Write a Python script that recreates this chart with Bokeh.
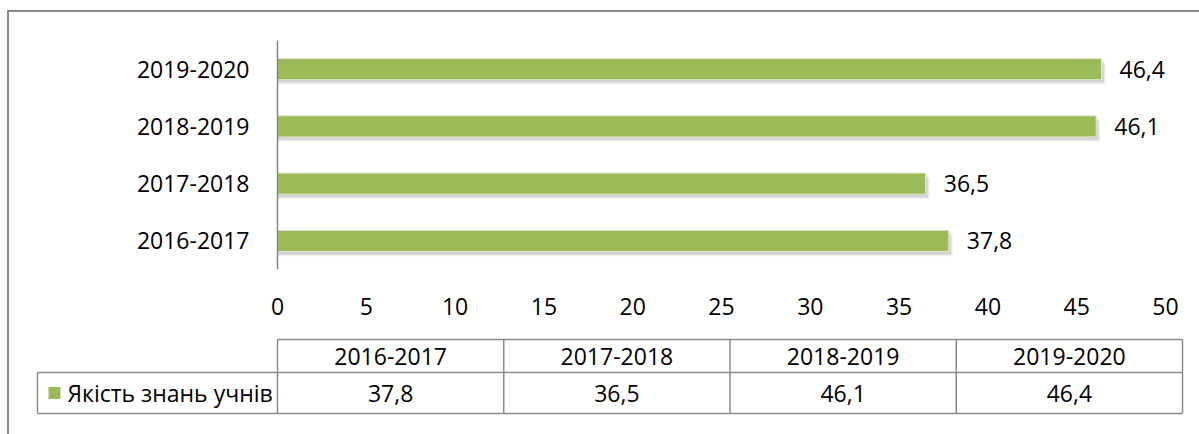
from bokeh.plotting import figure
from bokeh.layouts import column, row
from bokeh.models import Range1d, FixedTicker, ColumnDataSource, FactorRange
from bokeh.transform import dodge
from bokeh.core.properties import value
from bokeh.embed import file_html
from bokeh.resources import INLINE

# ---- data ----
years = ["2016-2017", "2017-2018", "2018-2019", "2019-2020"]
quality = [37.8, 36.5, 46.1, 46.4]
series_name = "Якість знань учнів"
x_ticks = [0, 5, 10, 15, 20, 25, 30, 35, 40, 45, 50]

# ---- style ----
FONT = "Open Sans"
FS = "23px"
GREEN = "#9BBB59"
LINE = "#8A8A8A"

OX, OY = 9, 12          # inner origin after the outer border
W = 1199 - OX
SPLIT = 330
H1 = SPLIT - OY
H2 = 434 - SPLIT

labels = [f"{v:.1f}".replace(".", ",") for v in quality]
src = ColumnDataSource(dict(year=years, q=quality, lab=labels))

# ---- bar chart ----
px_per_unit = (1165 - 277) / 50.0
x_end = (1190 - 277) / px_per_unit

p = figure(width=W, height=H1,
           y_range=FactorRange(factors=years),
           x_range=Range1d(0, x_end),
           output_backend="svg", toolbar_location=None,
           min_border_left=277 - OX, min_border_right=1199 - 1190,
           min_border_top=40 - OY, min_border_bottom=SPLIT - 269)
p.outline_line_color = None
p.grid.grid_line_color = None
p.background_fill_color = "white"
p.border_fill_color = "white"

# soft shadow
for dy, dx, a in [(-0.085, 0.22, 0.10), (-0.065, 0.16, 0.14), (-0.045, 0.10, 0.16)]:
    p.hbar(y=dodge("year", dy, range=p.y_range), left=0, right=dodge("q", dx),
           height=0.37, fill_color="#7f7f7f", fill_alpha=a, line_color=None, source=src)

p.hbar(y="year", left=0, right="q", height=0.37, fill_color=GREEN,
       line_color="#E3ECCF", line_width=1, source=src)

p.text(x="q", y="year", text="lab", x_offset=18, text_baseline="middle",
       text_align="left", text_font=value(FONT), text_font_size=FS,
       text_color="black", source=src)

p.xaxis.ticker = FixedTicker(ticks=x_ticks)
p.xaxis.axis_line_color = None
p.xaxis.major_tick_line_color = None
p.xaxis.minor_tick_line_color = None
p.xaxis.major_label_standoff = 22
p.xaxis.major_label_text_font = FONT
p.xaxis.major_label_text_font_size = FS
p.xaxis.major_label_text_color = "black"

p.yaxis.axis_line_color = "#868686"
p.yaxis.axis_line_width = 1.5
p.yaxis.major_tick_line_color = None
p.yaxis.minor_tick_line_color = None
p.yaxis.major_label_standoff = 22
p.yaxis.major_label_text_font = FONT
p.yaxis.major_label_text_font_size = FS
p.yaxis.major_label_text_color = "black"

# ---- data table ----
t = figure(width=W, height=H2, x_range=Range1d(OX, 1199), y_range=Range1d(434, SPLIT),
           output_backend="svg", toolbar_location=None, min_border=0,
           x_axis_location=None, y_axis_location=None)
t.outline_line_color = None
t.grid.grid_line_color = None
t.border_fill_color = "white"

tab_left, tab_right = 277, 1182
leg_left = 37
row_top, row_mid, row_bot = 339, 372, 413
n = len(years)
col_w = (tab_right - tab_left) / n
col_edges = [tab_left + i * col_w for i in range(n + 1)]
col_centers = [tab_left + (i + 0.5) * col_w for i in range(n)]

xs = [[tab_left, tab_right], [leg_left, tab_right], [leg_left, tab_right], [leg_left, leg_left]]
ys = [[row_top, row_top], [row_mid, row_mid], [row_bot, row_bot], [row_mid, row_bot]]
for e in col_edges:
    xs.append([e, e])
    ys.append([row_top, row_bot])
t.multi_line(xs=xs, ys=ys, line_color=LINE, line_width=1.5)

t.text(x=col_centers, y=[(row_top + row_mid) / 2] * n, text=years,
       text_align="center", text_baseline="middle", text_font=value(FONT),
       text_font_size=FS, text_color="black")
t.text(x=col_centers, y=[(row_mid + row_bot) / 2] * n, text=labels,
       text_align="center", text_baseline="middle", text_font=value(FONT),
       text_font_size=FS, text_color="black")
t.scatter(x=[54], y=[(row_mid + row_bot) / 2], marker="square", size=12,
          fill_color=GREEN, line_color=None)
t.text(x=[67], y=[(row_mid + row_bot) / 2], text=[series_name],
       text_align="left", text_baseline="middle", text_font=value(FONT),
       text_font_size=FS, text_color="black")

layout = column(p, row(t, spacing=0), spacing=0, margin=(OY - 2, 0, 0, OX - 2),
                styles={"border-top": "2px solid #8A8A8A",
                        "border-left": "2px solid #8A8A8A",
                        "background-color": "white"})

open("out.html", "w").write(file_html(layout, INLINE))
